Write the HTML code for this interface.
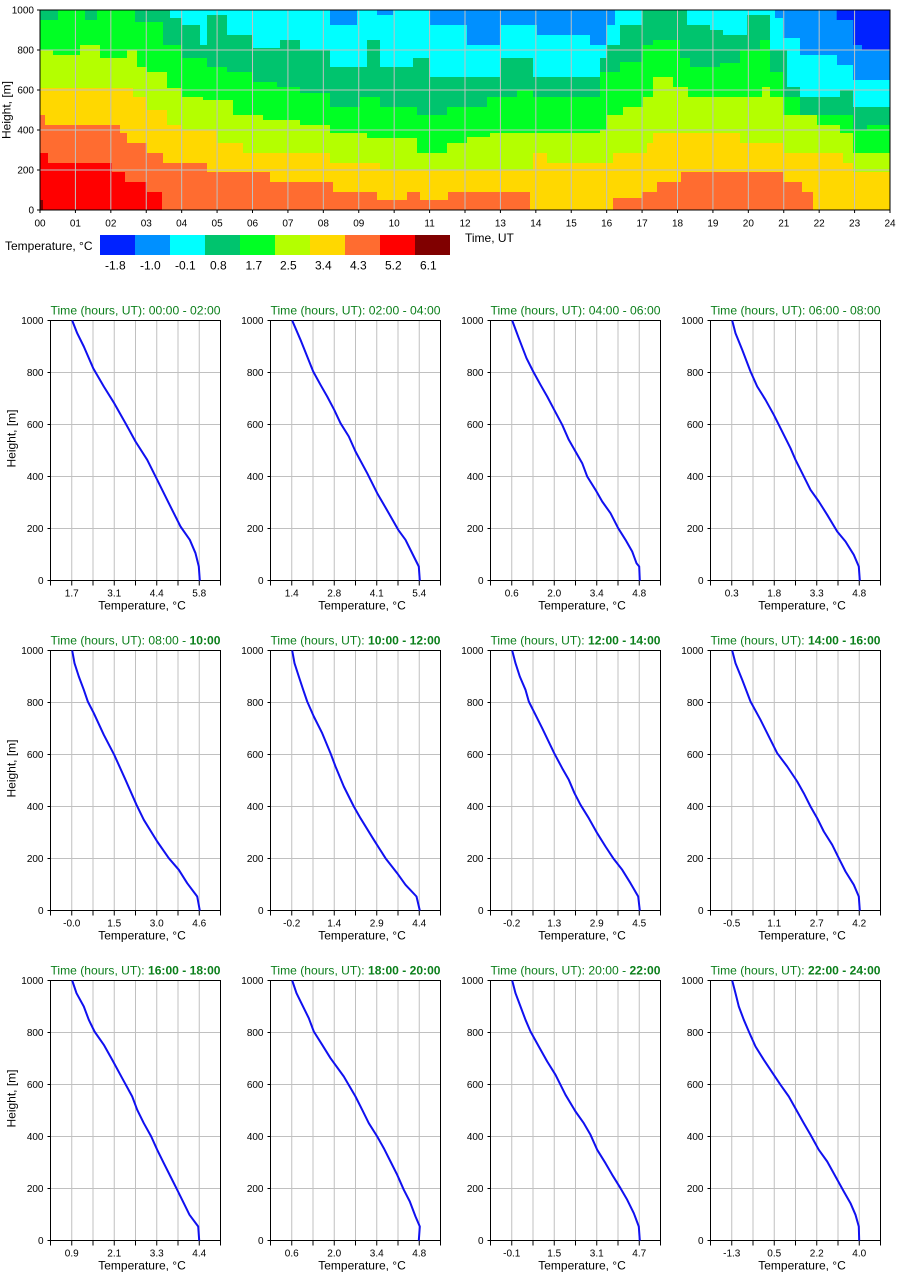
<!DOCTYPE html>
<html><head><meta charset="utf-8"><style>
html,body{margin:0;padding:0;background:#fff;}
svg{display:block;font-family:"Liberation Sans",Arial,sans-serif;}
</style></head><body>
<svg width="900" height="1280" viewBox="0 0 900 1280" xmlns="http://www.w3.org/2000/svg">
<rect x="0" y="0" width="900" height="1280" fill="#fff"/>
<defs>
<g id="ax">
<path d="M21.25,0V260M42.5,0V260M63.75,0V260M85,0V260M106.25,0V260M127.5,0V260M148.75,0V260M0,52H170M0,104H170M0,156H170M0,208H170" stroke="#c0c0c0" stroke-width="1" fill="none"/>
<rect x="0" y="0" width="170" height="260" fill="none" stroke="#000" stroke-width="1"/>
<path d="M0,260v5M21.25,260v5M42.5,260v5M63.75,260v5M85,260v5M106.25,260v5M127.5,260v5M148.75,260v5M170,260v5M-3,0h3M-3,52h3M-3,104h3M-3,156h3M-3,208h3M-3,260h3" stroke="#000" stroke-width="1" fill="none"/>
</g>
</defs>

<!-- ===== Heatmap ===== -->
<rect x="40" y="10" width="850" height="200" fill="#0022ff"/>
<path fill="#0090ff" d="M40,210 V10 H836.7 V20 H853.3 V45 H862 V50 H890 V210 Z"/>
<path fill="#00ffff" d="M40,210 V10 H330 V25 H357 V10 H377 V15 H393 V10 H430 V25 H467 V45 H500 V25 H537 V35 H590 V45 H607 V25 H615 V10 H775 V18 H783 V38 H800 V55 H837 V65 H853 V80 H890 V210 Z"/>
<path fill="#00c46e" d="M40,210 V10 H170 V18 H182 V25 H200 V45 H207 V15 H227 V35 H253 V48 H280 V40 H300 V50 H330 V67 H367 V40 H380 V67 H413 V58 H430 V77 H500 V58 H533 V77 H600 V58 H607 V45 H620 V25 H642 V10 H687 V25 H710 V30 H723 V35 H747 V15 H770 V50 H787 V87 H800 V97 H840 V90 H853 V107 H890 V210 Z"/>
<path fill="#00ff24" d="M40,210 V20 H58 V10 H85 V20 H97 V10 H135 V22 H163 V45 H182 V58 H207 V67 H227 V72 H253 V82 H277 V87 H300 V93 H330 V107 H360 V97 H380 V107 H417 V115 H447 V107 H487 V97 H517 V90 H533 V97 H600 V72 H620 V62 H642 V45 H653 V40 H680 V58 H690 V67 H720 V63 H740 V50 H760 V40 H770 V72 H783 V97 H800 V115 H853 V130 H867 V125 H890 V210 Z"/>
<path fill="#b4ff00" d="M40,210 V50 H53 V55 H80 V45 H100 V58 H127 V50 H137 V67 H147 V72 H167 V88 H182 V97 H203 V100 H233 V115 H263 V120 H300 V125 H330 V133 H367 V138 H417 V153 H447 V143 H467 V137 H490 V133 H600 V130 H607 V115 H623 V107 H643 V97 H653 V77 H673 V87 H688 V97 H762 V87 H770 V97 H783 V115 H817 V125 H840 V133 H853 V153 H890 V210 Z"/>
<path fill="#ffd800" d="M40,210 V88 H133 V97 H147 V110 H167 V125 H182 V130 H217 V143 H243 V153 H330 V163 H380 V170 H533 V153 H547 V163 H613 V153 H647 V143 H653 V133 H740 V143 H783 V153 H843 V163 H853 V172 H890 V210 Z"/>
<path fill="#ff6c30" d="M40,210 V115 H45 V125 H120 V133 H127 V143 H147 V153 H163 V163 H207 V172 H270 V182 H333 V192 H377 V200 H407 V192 H420 V200 H448 V192 H530 V210 H613 V198 H642 V192 H657 V182 H681 V172 H783 V182 H802 V192 H813 V210 Z"/>
<path fill="#ff0000" d="M40,210 V153 H48 V163 H112 V172 H125 V182 H147 V192 H162 V210 Z"/>
<rect x="40" y="200" width="3" height="10" fill="#800000"/>
<path fill="none" stroke="#c0c0c0" stroke-width="1" d="M75.42,10V210M110.83,10V210M146.25,10V210M181.67,10V210M217.08,10V210M252.5,10V210M287.92,10V210M323.33,10V210M358.75,10V210M394.17,10V210M429.58,10V210M465,10V210M500.42,10V210M535.83,10V210M571.25,10V210M606.67,10V210M642.08,10V210M677.5,10V210M712.92,10V210M748.33,10V210M783.75,10V210M819.17,10V210M854.58,10V210M40,50H890M40,90H890M40,130H890M40,170H890"/>
<rect x="40" y="10" width="850" height="200" fill="none" stroke="#000" stroke-width="1"/>
<path fill="none" stroke="#000" stroke-width="1" d="M40,210v3M75.42,210v3M110.83,210v3M146.25,210v3M181.67,210v3M217.08,210v3M252.5,210v3M287.92,210v3M323.33,210v3M358.75,210v3M394.17,210v3M429.58,210v3M465,210v3M500.42,210v3M535.83,210v3M571.25,210v3M606.67,210v3M642.08,210v3M677.5,210v3M712.92,210v3M748.33,210v3M783.75,210v3M819.17,210v3M854.58,210v3M890,210v3M37,10h3M37,50h3M37,90h3M37,130h3M37,170h3M37,210h3"/>
<g font-size="10" fill="#000" text-anchor="end">
<text x="34" y="13.5">1000</text><text x="34" y="53.5">800</text><text x="34" y="93.5">600</text><text x="34" y="133.5">400</text><text x="34" y="173.5">200</text><text x="34" y="213.5">0</text>
</g>
<g font-size="10" fill="#000" text-anchor="middle">
<text x="40" y="226.6">00</text><text x="75.42" y="226.6">01</text><text x="110.83" y="226.6">02</text><text x="146.25" y="226.6">03</text><text x="181.67" y="226.6">04</text><text x="217.08" y="226.6">05</text><text x="252.5" y="226.6">06</text><text x="287.92" y="226.6">07</text><text x="323.33" y="226.6">08</text><text x="358.75" y="226.6">09</text><text x="394.17" y="226.6">10</text><text x="429.58" y="226.6">11</text><text x="465" y="226.6">12</text><text x="500.42" y="226.6">13</text><text x="535.83" y="226.6">14</text><text x="571.25" y="226.6">15</text><text x="606.67" y="226.6">16</text><text x="642.08" y="226.6">17</text><text x="677.5" y="226.6">18</text><text x="712.92" y="226.6">19</text><text x="748.33" y="226.6">20</text><text x="783.75" y="226.6">21</text><text x="819.17" y="226.6">22</text><text x="854.58" y="226.6">23</text><text x="890" y="226.6">24</text>
</g>
<text transform="translate(10.3,110) rotate(-90)" text-anchor="middle" font-size="12" fill="#000">Height, [m]</text>
<text x="465" y="242" font-size="12" fill="#000">Time, UT</text>

<!-- colorbar -->
<text x="5" y="250" font-size="12" fill="#000">Temperature, °C</text>
<rect x="100" y="235" width="35.5" height="20" fill="#0022ff"/>
<rect x="135" y="235" width="35.5" height="20" fill="#0090ff"/>
<rect x="170" y="235" width="35.5" height="20" fill="#00ffff"/>
<rect x="205" y="235" width="35.5" height="20" fill="#00c46e"/>
<rect x="240" y="235" width="35.5" height="20" fill="#00ff24"/>
<rect x="275" y="235" width="35.5" height="20" fill="#b4ff00"/>
<rect x="310" y="235" width="35.5" height="20" fill="#ffd800"/>
<rect x="345" y="235" width="35.5" height="20" fill="#ff6c30"/>
<rect x="380" y="235" width="35.5" height="20" fill="#ff0000"/>
<rect x="415" y="235" width="35" height="20" fill="#800000"/>
<g font-size="12" fill="#000">
<text x="105" y="269.5">-1.8</text><text x="140" y="269.5">-1.0</text><text x="175" y="269.5">-0.1</text><text x="210" y="269.5">0.8</text><text x="245.5" y="269.5">1.7</text><text x="280" y="269.5">2.5</text><text x="315" y="269.5">3.4</text><text x="350" y="269.5">4.3</text><text x="385" y="269.5">5.2</text><text x="420" y="269.5">6.1</text>
</g>

<!-- ===== Small plots ===== -->
<g font-size="10" fill="#000">

<!-- Row 1 -->
<g transform="translate(50.5,320.5)">
<use href="#ax"/>
<polyline fill="none" stroke="#1010f0" stroke-width="2" stroke-linejoin="round" points="21.7,0 26.7,12.7 33.3,26 42.7,47.7 53.3,66 63.7,82.7 75,102.7 85,121 96.7,139.3 106.7,159.3 118.3,182.7 130,206 139.3,219.3 145,232.7 148.3,246 149.3,260"/>
<text x="85" y="-6" text-anchor="middle" font-size="12" fill="#0a7f1a" textLength="170" lengthAdjust="spacingAndGlyphs">Time (hours, UT): 00:00 - 02:00</text>
<text x="-7" y="3.5" text-anchor="end">1000</text><text x="-7" y="55.5" text-anchor="end">800</text><text x="-7" y="107.5" text-anchor="end">600</text><text x="-7" y="159.5" text-anchor="end">400</text><text x="-7" y="211.5" text-anchor="end">200</text><text x="-7" y="263.5" text-anchor="end">0</text>
<text x="21.25" y="276" text-anchor="middle">1.7</text><text x="63.75" y="276" text-anchor="middle">3.1</text><text x="106.25" y="276" text-anchor="middle">4.4</text><text x="148.75" y="276" text-anchor="middle">5.8</text>
<text x="91.5" y="289" text-anchor="middle" font-size="12">Temperature, °C</text>
<text transform="translate(-35.2,118) rotate(-90)" text-anchor="middle" font-size="12">Height, [m]</text>
</g>

<g transform="translate(270.5,320.5)">
<use href="#ax"/>
<polyline fill="none" stroke="#1010f0" stroke-width="2" stroke-linejoin="round" points="21.7,0 30,19.3 42.7,51 50,64.3 56.7,76 63.7,89.3 70,102.7 78.3,116 85,131 96.7,152.7 106.7,172.7 118.3,192.7 127.7,209.3 135,219.3 143.3,236 148.3,246 149.3,260"/>
<text x="85" y="-6" text-anchor="middle" font-size="12" fill="#0a7f1a" textLength="170" lengthAdjust="spacingAndGlyphs">Time (hours, UT): 02:00 - 04:00</text>
<text x="-7" y="3.5" text-anchor="end">1000</text><text x="-7" y="55.5" text-anchor="end">800</text><text x="-7" y="107.5" text-anchor="end">600</text><text x="-7" y="159.5" text-anchor="end">400</text><text x="-7" y="211.5" text-anchor="end">200</text><text x="-7" y="263.5" text-anchor="end">0</text>
<text x="21.25" y="276" text-anchor="middle">1.4</text><text x="63.75" y="276" text-anchor="middle">2.8</text><text x="106.25" y="276" text-anchor="middle">4.1</text><text x="148.75" y="276" text-anchor="middle">5.4</text>
<text x="91.5" y="289" text-anchor="middle" font-size="12">Temperature, °C</text>
</g>

<g transform="translate(490.5,320.5)">
<use href="#ax"/>
<polyline fill="none" stroke="#1010f0" stroke-width="2" stroke-linejoin="round" points="21.7,0 28.3,17.7 36,37.7 42.7,51 50,64.3 56.7,76 63.7,89.3 71.7,104.3 78.3,119.3 85,131 91.7,142.7 96.7,156 105,169.3 111.7,181 120,192.7 127.7,207.7 135,219.3 141.7,231 146,242.7 148.7,246 149.3,260"/>
<text x="85" y="-6" text-anchor="middle" font-size="12" fill="#0a7f1a" textLength="170" lengthAdjust="spacingAndGlyphs">Time (hours, UT): 04:00 - 06:00</text>
<text x="-7" y="3.5" text-anchor="end">1000</text><text x="-7" y="55.5" text-anchor="end">800</text><text x="-7" y="107.5" text-anchor="end">600</text><text x="-7" y="159.5" text-anchor="end">400</text><text x="-7" y="211.5" text-anchor="end">200</text><text x="-7" y="263.5" text-anchor="end">0</text>
<text x="21.25" y="276" text-anchor="middle">0.6</text><text x="63.75" y="276" text-anchor="middle">2.0</text><text x="106.25" y="276" text-anchor="middle">3.4</text><text x="148.75" y="276" text-anchor="middle">4.8</text>
<text x="91.5" y="289" text-anchor="middle" font-size="12">Temperature, °C</text>
</g>

<g transform="translate(710.5,320.5)">
<use href="#ax"/>
<polyline fill="none" stroke="#1010f0" stroke-width="2" stroke-linejoin="round" points="21.7,0 25,12.7 31.7,29.3 40,51 46.7,66 55,79.3 63.3,94.3 73.3,114.3 80,127.7 85,139.3 91.7,152.7 100,169.3 108.3,181 116.7,194.3 126.7,211 135,221 143.3,234.3 148.3,246 149.3,260"/>
<text x="85" y="-6" text-anchor="middle" font-size="12" fill="#0a7f1a" textLength="170" lengthAdjust="spacingAndGlyphs">Time (hours, UT): 06:00 - 08:00</text>
<text x="-7" y="3.5" text-anchor="end">1000</text><text x="-7" y="55.5" text-anchor="end">800</text><text x="-7" y="107.5" text-anchor="end">600</text><text x="-7" y="159.5" text-anchor="end">400</text><text x="-7" y="211.5" text-anchor="end">200</text><text x="-7" y="263.5" text-anchor="end">0</text>
<text x="21.25" y="276" text-anchor="middle">0.3</text><text x="63.75" y="276" text-anchor="middle">1.8</text><text x="106.25" y="276" text-anchor="middle">3.3</text><text x="148.75" y="276" text-anchor="middle">4.8</text>
<text x="91.5" y="289" text-anchor="middle" font-size="12">Temperature, °C</text>
</g>

<!-- Row 2 -->
<g transform="translate(50.5,650.5)">
<use href="#ax"/>
<polyline fill="none" stroke="#1010f0" stroke-width="2" stroke-linejoin="round" points="21.7,0 24,12.7 28.3,26 33.3,39.3 37.3,51 43.3,62.7 53.3,84.3 63.7,104.3 75,129.3 86,154.3 93.3,169.3 106.7,191 118.3,207.7 128.3,219.3 136.7,232.7 146.7,246 149.3,260"/>
<text x="85" y="-6" text-anchor="middle" font-size="12" fill="#0a7f1a" textLength="170" lengthAdjust="spacingAndGlyphs">Time (hours, UT): 08:00 - <tspan font-weight="bold">10:00</tspan></text>
<text x="-7" y="3.5" text-anchor="end">1000</text><text x="-7" y="55.5" text-anchor="end">800</text><text x="-7" y="107.5" text-anchor="end">600</text><text x="-7" y="159.5" text-anchor="end">400</text><text x="-7" y="211.5" text-anchor="end">200</text><text x="-7" y="263.5" text-anchor="end">0</text>
<text x="21.25" y="276" text-anchor="middle">-0.0</text><text x="63.75" y="276" text-anchor="middle">1.5</text><text x="106.25" y="276" text-anchor="middle">3.0</text><text x="148.75" y="276" text-anchor="middle">4.6</text>
<text x="91.5" y="289" text-anchor="middle" font-size="12">Temperature, °C</text>
<text transform="translate(-35.2,118) rotate(-90)" text-anchor="middle" font-size="12">Height, [m]</text>
</g>

<g transform="translate(270.5,650.5)">
<use href="#ax"/>
<polyline fill="none" stroke="#1010f0" stroke-width="2" stroke-linejoin="round" points="21.7,0 24,12.7 28.3,26 32.7,39.3 36.7,51 43.3,66 51.7,82.7 60,102.7 65,116 73.3,136 83.3,156 90,167.7 103.3,189.3 115,207.7 126.7,222.7 135,234.3 146,246 149.3,260"/>
<text x="85" y="-6" text-anchor="middle" font-size="12" fill="#0a7f1a" textLength="170" lengthAdjust="spacingAndGlyphs">Time (hours, UT): <tspan font-weight="bold">10:00 - 12:00</tspan></text>
<text x="-7" y="3.5" text-anchor="end">1000</text><text x="-7" y="55.5" text-anchor="end">800</text><text x="-7" y="107.5" text-anchor="end">600</text><text x="-7" y="159.5" text-anchor="end">400</text><text x="-7" y="211.5" text-anchor="end">200</text><text x="-7" y="263.5" text-anchor="end">0</text>
<text x="21.25" y="276" text-anchor="middle">-0.2</text><text x="63.75" y="276" text-anchor="middle">1.4</text><text x="106.25" y="276" text-anchor="middle">2.9</text><text x="148.75" y="276" text-anchor="middle">4.4</text>
<text x="91.5" y="289" text-anchor="middle" font-size="12">Temperature, °C</text>
</g>

<g transform="translate(490.5,650.5)">
<use href="#ax"/>
<polyline fill="none" stroke="#1010f0" stroke-width="2" stroke-linejoin="round" points="21.7,0 25,12.7 29.3,26 35,39.3 38.3,51 45,64.3 51.7,77.7 63.7,102.7 71.7,117.7 78.3,129.3 84,142.7 90,154.3 98.3,167.7 106.7,182.7 115,196 122.7,207.7 131.7,219.3 140,232.7 147.7,246 149.3,260"/>
<text x="85" y="-6" text-anchor="middle" font-size="12" fill="#0a7f1a" textLength="170" lengthAdjust="spacingAndGlyphs">Time (hours, UT): <tspan font-weight="bold">12:00 - 14:00</tspan></text>
<text x="-7" y="3.5" text-anchor="end">1000</text><text x="-7" y="55.5" text-anchor="end">800</text><text x="-7" y="107.5" text-anchor="end">600</text><text x="-7" y="159.5" text-anchor="end">400</text><text x="-7" y="211.5" text-anchor="end">200</text><text x="-7" y="263.5" text-anchor="end">0</text>
<text x="21.25" y="276" text-anchor="middle">-0.2</text><text x="63.75" y="276" text-anchor="middle">1.3</text><text x="106.25" y="276" text-anchor="middle">2.9</text><text x="148.75" y="276" text-anchor="middle">4.5</text>
<text x="91.5" y="289" text-anchor="middle" font-size="12">Temperature, °C</text>
</g>

<g transform="translate(710.5,650.5)">
<use href="#ax"/>
<polyline fill="none" stroke="#1010f0" stroke-width="2" stroke-linejoin="round" points="21.7,0 25,12.7 31.7,29.3 40,51 50,69.3 60,89.3 66.7,102.7 76.7,116 86.7,131 93.3,142.7 100,156 106.7,167.7 113.3,181 121.7,194.3 128.3,207.7 135,221 143.3,234.3 148.3,246 149.3,260"/>
<text x="85" y="-6" text-anchor="middle" font-size="12" fill="#0a7f1a" textLength="170" lengthAdjust="spacingAndGlyphs">Time (hours, UT): <tspan font-weight="bold">14:00 - 16:00</tspan></text>
<text x="-7" y="3.5" text-anchor="end">1000</text><text x="-7" y="55.5" text-anchor="end">800</text><text x="-7" y="107.5" text-anchor="end">600</text><text x="-7" y="159.5" text-anchor="end">400</text><text x="-7" y="211.5" text-anchor="end">200</text><text x="-7" y="263.5" text-anchor="end">0</text>
<text x="21.25" y="276" text-anchor="middle">-0.5</text><text x="63.75" y="276" text-anchor="middle">1.1</text><text x="106.25" y="276" text-anchor="middle">2.7</text><text x="148.75" y="276" text-anchor="middle">4.2</text>
<text x="91.5" y="289" text-anchor="middle" font-size="12">Temperature, °C</text>
</g>

<!-- Row 3 -->
<g transform="translate(50.5,980.5)">
<use href="#ax"/>
<polyline fill="none" stroke="#1010f0" stroke-width="2" stroke-linejoin="round" points="21.7,0 26,12.7 33.3,26 38.3,39.3 44,51 53.3,64.3 61.7,79.3 71.7,97.7 81.7,116 86.7,129.3 93.3,142.7 100.7,156 106.7,169.3 113.3,182.7 120,196 126.7,209.3 133.3,222.7 139,234.3 147.7,246 148.7,260"/>
<text x="85" y="-6" text-anchor="middle" font-size="12" fill="#0a7f1a" textLength="170" lengthAdjust="spacingAndGlyphs">Time (hours, UT): <tspan font-weight="bold">16:00 - 18:00</tspan></text>
<text x="-7" y="3.5" text-anchor="end">1000</text><text x="-7" y="55.5" text-anchor="end">800</text><text x="-7" y="107.5" text-anchor="end">600</text><text x="-7" y="159.5" text-anchor="end">400</text><text x="-7" y="211.5" text-anchor="end">200</text><text x="-7" y="263.5" text-anchor="end">0</text>
<text x="21.25" y="276" text-anchor="middle">0.9</text><text x="63.75" y="276" text-anchor="middle">2.1</text><text x="106.25" y="276" text-anchor="middle">3.3</text><text x="148.75" y="276" text-anchor="middle">4.4</text>
<text x="91.5" y="289" text-anchor="middle" font-size="12">Temperature, °C</text>
<text transform="translate(-35.2,118) rotate(-90)" text-anchor="middle" font-size="12">Height, [m]</text>
</g>

<g transform="translate(270.5,980.5)">
<use href="#ax"/>
<polyline fill="none" stroke="#1010f0" stroke-width="2" stroke-linejoin="round" points="21.7,0 26,12.7 31.7,24.3 38.3,37.7 43.3,51 51.7,64.3 60,77.7 73.3,96 85,116 91.7,129.3 98.3,142.7 106.7,156 113.3,167.7 120,181 126.7,194.3 133.3,209.3 139.3,221 145,236 149.3,246 148.3,260"/>
<text x="85" y="-6" text-anchor="middle" font-size="12" fill="#0a7f1a" textLength="170" lengthAdjust="spacingAndGlyphs">Time (hours, UT): <tspan font-weight="bold">18:00 - 20:00</tspan></text>
<text x="-7" y="3.5" text-anchor="end">1000</text><text x="-7" y="55.5" text-anchor="end">800</text><text x="-7" y="107.5" text-anchor="end">600</text><text x="-7" y="159.5" text-anchor="end">400</text><text x="-7" y="211.5" text-anchor="end">200</text><text x="-7" y="263.5" text-anchor="end">0</text>
<text x="21.25" y="276" text-anchor="middle">0.6</text><text x="63.75" y="276" text-anchor="middle">2.0</text><text x="106.25" y="276" text-anchor="middle">3.4</text><text x="148.75" y="276" text-anchor="middle">4.8</text>
<text x="91.5" y="289" text-anchor="middle" font-size="12">Temperature, °C</text>
</g>

<g transform="translate(490.5,980.5)">
<use href="#ax"/>
<polyline fill="none" stroke="#1010f0" stroke-width="2" stroke-linejoin="round" points="21.7,0 25,12.7 30,26 35,39.3 40,51 48.3,66 56.7,81 65,94.3 75,114.3 85,131 93.3,142.7 100,154.3 106.7,169.3 115,182.7 121.7,194.3 130,207.7 136.7,219.3 143.3,232.7 148.3,246 149.3,260"/>
<text x="85" y="-6" text-anchor="middle" font-size="12" fill="#0a7f1a" textLength="170" lengthAdjust="spacingAndGlyphs">Time (hours, UT): 20:00 - <tspan font-weight="bold">22:00</tspan></text>
<text x="-7" y="3.5" text-anchor="end">1000</text><text x="-7" y="55.5" text-anchor="end">800</text><text x="-7" y="107.5" text-anchor="end">600</text><text x="-7" y="159.5" text-anchor="end">400</text><text x="-7" y="211.5" text-anchor="end">200</text><text x="-7" y="263.5" text-anchor="end">0</text>
<text x="21.25" y="276" text-anchor="middle">-0.1</text><text x="63.75" y="276" text-anchor="middle">1.5</text><text x="106.25" y="276" text-anchor="middle">3.1</text><text x="148.75" y="276" text-anchor="middle">4.7</text>
<text x="91.5" y="289" text-anchor="middle" font-size="12">Temperature, °C</text>
</g>

<g transform="translate(710.5,980.5)">
<use href="#ax"/>
<polyline fill="none" stroke="#1010f0" stroke-width="2" stroke-linejoin="round" points="21.7,0 25,12.7 28.3,26 33.3,39.3 38.3,51 45,66 53.3,79.3 63.3,94.3 70,104.3 78.3,116 86.7,131 93.3,142.7 100,154.3 108.3,169.3 116.7,181 125,196 133.3,211 140,222.7 145,234.3 148.3,246 148.7,260"/>
<text x="85" y="-6" text-anchor="middle" font-size="12" fill="#0a7f1a" textLength="170" lengthAdjust="spacingAndGlyphs">Time (hours, UT): <tspan font-weight="bold">22:00 - 24:00</tspan></text>
<text x="-7" y="3.5" text-anchor="end">1000</text><text x="-7" y="55.5" text-anchor="end">800</text><text x="-7" y="107.5" text-anchor="end">600</text><text x="-7" y="159.5" text-anchor="end">400</text><text x="-7" y="211.5" text-anchor="end">200</text><text x="-7" y="263.5" text-anchor="end">0</text>
<text x="21.25" y="276" text-anchor="middle">-1.3</text><text x="63.75" y="276" text-anchor="middle">0.5</text><text x="106.25" y="276" text-anchor="middle">2.2</text><text x="148.75" y="276" text-anchor="middle">4.0</text>
<text x="91.5" y="289" text-anchor="middle" font-size="12">Temperature, °C</text>
</g>

</g>
</svg>
</body></html>
